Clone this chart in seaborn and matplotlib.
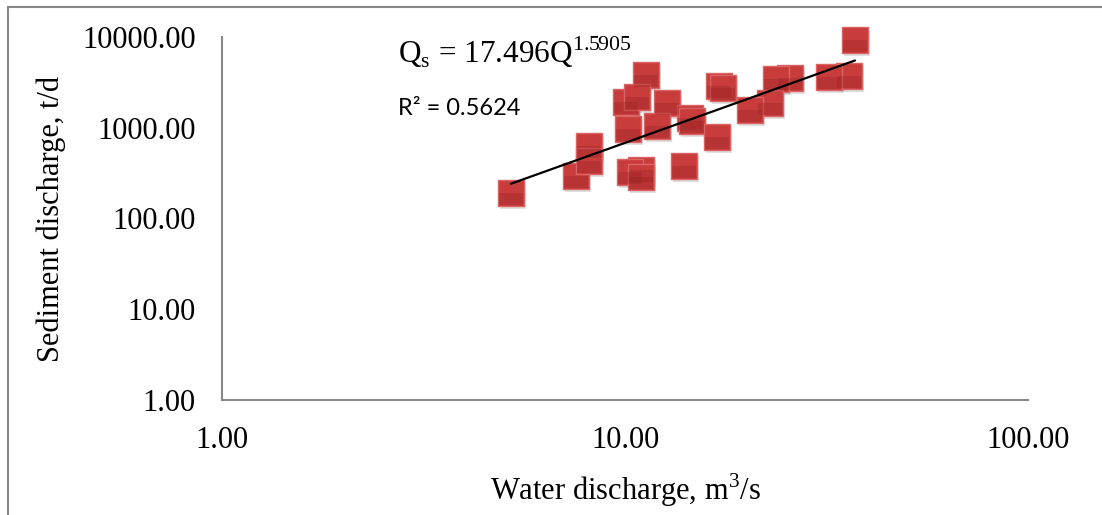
#!/usr/bin/env python3

import matplotlib

matplotlib.use("Agg")
import matplotlib.pyplot as plt
import matplotlib.transforms as mtransforms
import numpy as np
import pandas as pd
import seaborn as sns
from matplotlib.patches import Rectangle
from matplotlib.ticker import FuncFormatter, NullLocator

# water discharge (m3/s) and sediment discharge (t/d)
water_q = [5.21, 7.56, 8.14, 8.14, 11.27, 10.06, 10.71, 12.72, 10.17, 12.0,
           14.5, 14.67, 17.1, 17.5, 16.9, 14.0, 10.96, 10.29, 10.96, 37.2,
           35.9, 32.1, 25.7, 23.7, 22.9, 20.4]
sediment_q = [191, 294, 630, 430, 3815, 1922, 2183, 1874, 968, 1045,
              1280, 1186, 2884, 2742, 791, 379, 342, 325, 287, 9270,
              3717, 3624, 3533, 3445, 1874, 1570]

# power-law trendline shown on the chart
coef_a = 17.496
coef_b = 1.5905
r_squared = 0.5624

SERIF = ["Liberation Serif", "DejaVu Serif"]


def main():
    sns.set_theme(style="white")
    plt.rcParams["font.family"] = SERIF
    plt.rcParams["text.color"] = "black"
    plt.rcParams["axes.labelcolor"] = "black"

    df = pd.DataFrame({"water": water_q, "sediment": sediment_q})

    fig = plt.figure(figsize=(11.02, 5.15), dpi=100)
    ax = fig.add_axes([0.2015, 0.2233, 0.7314, 0.7049])

    # frame around the chart area
    fig.patches.append(Rectangle((8 / 1102, -0.1), 1.2, 1.1 - 7 / 515,
                                 transform=fig.transFigure, fill=False,
                                 edgecolor="#888888", linewidth=1.5))

    shadow = mtransforms.offset_copy(ax.transData, fig=fig, x=2, y=-3, units="dots")
    sns.scatterplot(data=df, x="water", y="sediment", marker="s", s=340,
                    color="#999999", alpha=0.3, linewidth=0, ax=ax,
                    transform=shadow, zorder=2, clip_on=False)
    sns.scatterplot(data=df, x="water", y="sediment", marker="s", s=340,
                    color="#C93C3C", edgecolor="#DA6464", linewidth=1.0,
                    alpha=1.0, ax=ax, zorder=3, clip_on=False)
    # darker lower half to imitate the gradient fill
    half = [(-1, -1), (1, -1), (1, 0.0), (-1, 0.0), (-1, -1)]
    ax.scatter(df["water"], df["sediment"], marker=half, s=320,
               color="#9A2424", alpha=0.35, linewidth=0, zorder=3,
               clip_on=False)

    xs = np.array([min(water_q), max(water_q)])
    ax.plot(xs, coef_a * xs ** coef_b, color="black", linewidth=1.6, zorder=4)

    ax.set_xscale("log")
    ax.set_yscale("log")
    ax.set_xlim(1, 100)
    ax.set_ylim(1, 10000)
    ax.xaxis.set_minor_locator(NullLocator())
    ax.yaxis.set_minor_locator(NullLocator())
    fmt = FuncFormatter(lambda v, _: f"{v:.2f}")
    ax.xaxis.set_major_formatter(fmt)
    ax.yaxis.set_major_formatter(fmt)
    ax.tick_params(length=0, labelsize=22, pad=19, colors="black")

    for side in ["top", "right"]:
        ax.spines[side].set_visible(False)
    for side in ["left", "bottom"]:
        ax.spines[side].set_color("#888888")
        ax.spines[side].set_linewidth(1.5)

    ax.set_xlabel("Water discharge, m$^\\mathregular{3}$/s", fontsize=22,
                  color="black")
    ax.set_ylabel("Sediment discharge, t/d", fontsize=22, color="black")
    ax.xaxis.set_label_coords(0.5, -0.198)
    ax.yaxis.set_label_coords(-0.194, 0.5)

    fig.text(398 / 1102, 1 - 63 / 515,
             f"Q$_\\mathregular{{s}}$ = {coef_a}Q$^\\mathregular{{{coef_b}}}$",
             fontsize=22.5, va="baseline", ha="left", color="black")
    fig.text(398 / 1102, 1 - 115 / 515, f"R² = {r_squared}",
             fontsize=17, family=["Lato", "DejaVu Sans"],
             va="baseline", ha="left", color="black")

    fig.savefig("out.png", dpi=100)


if __name__ == "__main__":
    main()
